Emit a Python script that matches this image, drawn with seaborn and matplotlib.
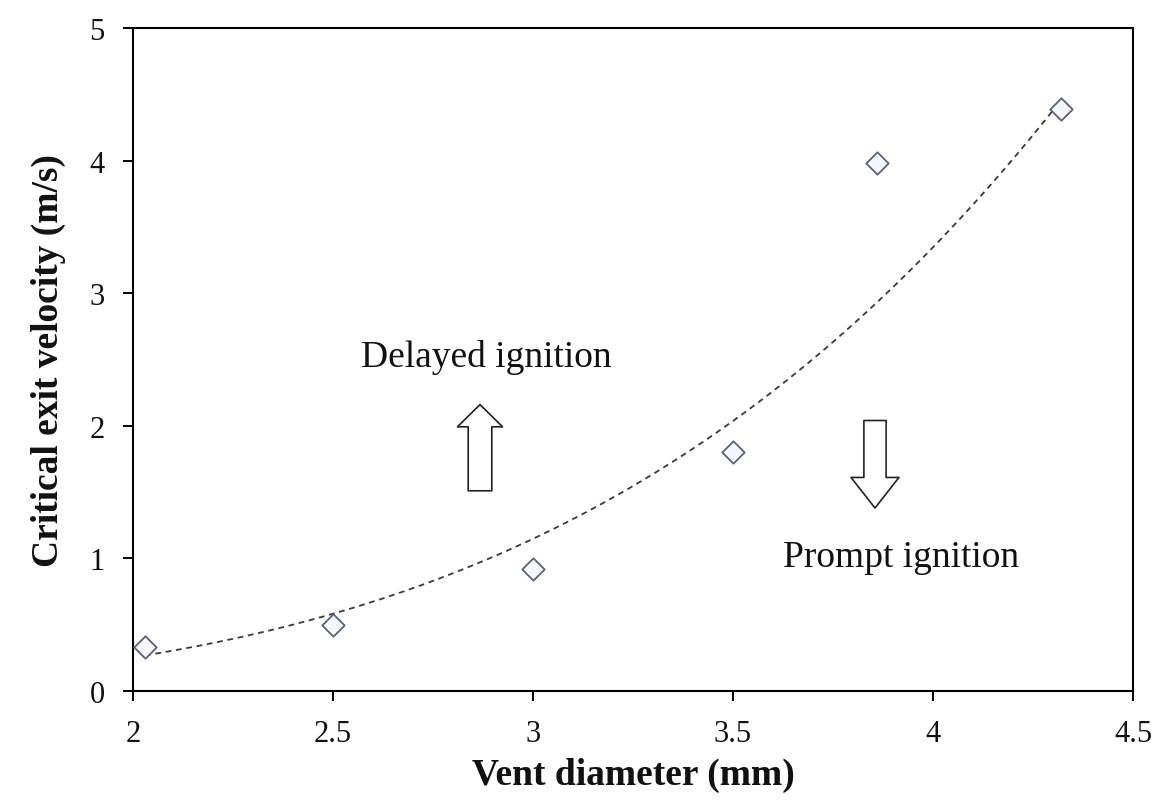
import numpy as np
import pandas as pd
import matplotlib
matplotlib.use("Agg")
import matplotlib.pyplot as plt
import seaborn as sns
from matplotlib.patches import FancyArrowPatch

# Data
vent_diameter = [2.03, 2.5, 3.0, 3.5, 3.86, 4.32]
critical_velocity = [0.33, 0.50, 0.92, 1.80, 3.98, 4.39]
x_ticks = [2, 2.5, 3, 3.5, 4, 4.5]
x_tick_labels = ["2", "2.5", "3", "3.5", "4", "4.5"]
y_ticks = [0, 1, 2, 3, 4, 5]
y_tick_labels = ["0", "1", "2", "3", "4", "5"]

sns.set_theme(style="white")
plt.rcParams["font.family"] = ["Liberation Serif", "DejaVu Serif"]

fig = plt.figure(figsize=(11.64, 8.12), dpi=100)
ax = fig.add_axes([133 / 1164, 1 - 692 / 812, 1000 / 1164, 663 / 812])

df = pd.DataFrame({"d": vent_diameter, "v": critical_velocity})

# power-law trendline (log-log least squares fit of the data)
b, ln_a = np.polyfit(np.log(df["d"]), np.log(df["v"]), 1)
xs = np.linspace(df["d"].min(), df["d"].max(), 200)
trend = pd.DataFrame({"d": xs, "v": np.exp(ln_a) * xs ** b})
sns.lineplot(data=trend, x="d", y="v", ax=ax, color="#3a3a3a",
             linewidth=1.3, linestyle=(0, (3.2, 2.6)), zorder=2)

sns.scatterplot(data=df, x="d", y="v", ax=ax, marker="D", s=130,
                facecolor="#f4f7fb", edgecolor="#5b6277", linewidth=1.3,
                zorder=3)

ax.set_xlim(2, 4.5)
ax.set_ylim(0, 5)
ax.set_xticks(x_ticks)
ax.set_xticklabels(x_tick_labels)
ax.set_yticks(y_ticks)
ax.set_yticklabels(y_tick_labels)
ax.tick_params(axis="both", which="major", direction="out", length=7.5,
               width=1.4, color="black", labelsize=22, pad=13,
               bottom=True, left=True, top=False, right=False,
               labelcolor="#111111")
for s in ax.spines.values():
    s.set_visible(True)
    s.set_color("black")
    s.set_linewidth(1.5)

ax.set_xlabel("Vent diameter (mm)", fontsize=27, fontweight="bold", labelpad=6,
              color="#111111")
ax.set_ylabel("Critical exit velocity (m/s)", fontsize=27, fontweight="bold",
              labelpad=17, color="#111111")

ax.text(2.8825, 2.45, "Delayed ignition", fontsize=27, ha="center",
        va="baseline", color="#111111")
ax.text(3.92, 0.94, "Prompt ignition", fontsize=27, ha="center",
        va="baseline", color="#111111")

up_style = "simple,head_length=1.6,head_width=3.25,tail_width=1.7"
down_style = "simple,head_length=2.2,head_width=3.45,tail_width=1.6"
up = FancyArrowPatch((2.8675, 1.51), (2.8675, 2.16), arrowstyle=up_style,
                     mutation_scale=10, facecolor="white", edgecolor="#222222",
                     linewidth=1.2, shrinkA=0, shrinkB=0, zorder=4)
down = FancyArrowPatch((3.855, 2.04), (3.855, 1.38), arrowstyle=down_style,
                       mutation_scale=10, facecolor="white", edgecolor="#222222",
                       linewidth=1.2, shrinkA=0, shrinkB=0, zorder=4)
ax.add_patch(up)
ax.add_patch(down)

fig.savefig("out.png", dpi=100, facecolor="white")
